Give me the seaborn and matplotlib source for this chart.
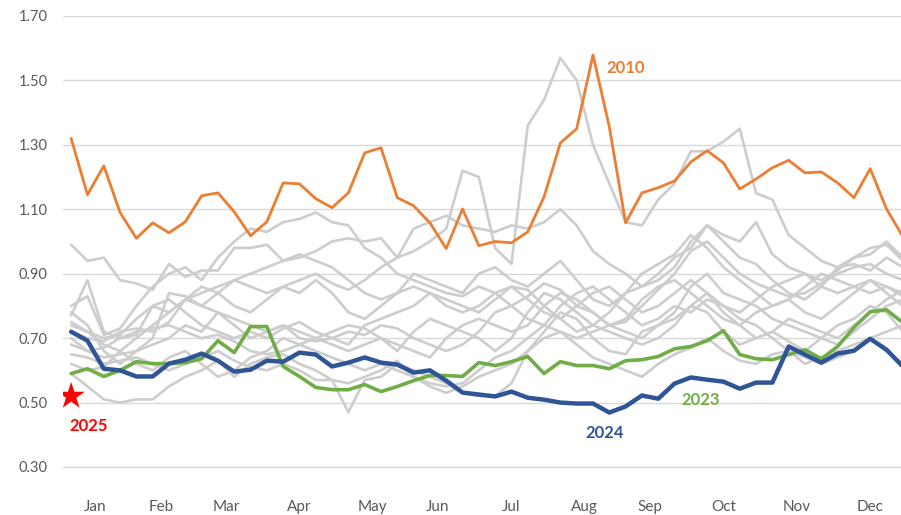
import numpy as np
import pandas as pd
import matplotlib
matplotlib.use("Agg")
import matplotlib.pyplot as plt
import seaborn as sns

# weekly values, 52 weeks
weeks = list(range(52))
months = ["Jan", "Feb", "Mar", "Apr", "May", "Jun", "Jul", "Aug", "Sep", "Oct", "Nov", "Dec"]
weeks_per_month = [4, 4, 4, 5, 4, 4, 5, 4, 4, 5, 4, 5]

y2010 = [1.32, 1.145, 1.235, 1.09, 1.01, 1.058, 1.027, 1.061, 1.142, 1.151, 1.092, 1.018,
         1.061, 1.182, 1.179, 1.133, 1.105, 1.151, 1.275, 1.291, 1.136, 1.111, 1.058, 0.978,
         1.101, 0.987, 1.00, 0.996, 1.03, 1.139, 1.306, 1.35, 1.579, 1.356, 1.058, 1.151,
         1.167, 1.188, 1.247, 1.282, 1.244, 1.163, 1.194, 1.229, 1.252, 1.213, 1.216, 1.182,
         1.136, 1.226, 1.101, 1.015]

y2023 = [0.59, 0.605, 0.581, 0.60, 0.627, 0.621, 0.621, 0.624, 0.636, 0.692, 0.655, 0.736,
         0.736, 0.612, 0.581, 0.547, 0.54, 0.54, 0.556, 0.534, 0.55, 0.568, 0.584, 0.584,
         0.581, 0.624, 0.615, 0.627, 0.643, 0.59, 0.627, 0.615, 0.615, 0.605, 0.63, 0.633,
         0.643, 0.667, 0.674, 0.692, 0.723, 0.649, 0.636, 0.633, 0.649, 0.664, 0.636, 0.674,
         0.733, 0.782, 0.788, 0.748]

y2024 = [0.72, 0.692, 0.605, 0.60, 0.581, 0.581, 0.621, 0.633, 0.652, 0.63, 0.596, 0.602,
         0.63, 0.627, 0.655, 0.649, 0.612, 0.624, 0.64, 0.624, 0.618, 0.593, 0.60, 0.568,
         0.531, 0.525, 0.519, 0.534, 0.515, 0.509, 0.50, 0.497, 0.497, 0.469, 0.488, 0.522,
         0.512, 0.559, 0.578, 0.571, 0.565, 0.543, 0.562, 0.562, 0.674, 0.649, 0.624, 0.652,
         0.661, 0.698, 0.664, 0.612]

y2025 = [0.52]

# other years (grey background lines)
grey_years = {
    "g01": [0.74, 0.72, 0.70, 0.71, 0.76, 0.80, 0.78, 0.82, 0.80, 0.84, 0.88, 0.86,
            0.84, 0.86, 0.88, 0.90, 0.87, 0.85, 0.88, 0.92, 0.95, 0.97, 1.00, 1.04,
            1.22, 1.20, 0.98, 0.93, 1.36, 1.44, 1.57, 1.50, 1.30, 1.18, 1.06, 1.05,
            1.13, 1.18, 1.28, 1.28, 1.31, 1.35, 1.15, 1.13, 1.02, 0.98, 0.94, 0.92,
            0.93, 0.91, 0.95, 0.92],
    "g02": [0.80, 0.83, 0.71, 0.73, 0.80, 0.86, 0.90, 0.92, 0.88, 0.95, 1.00, 1.04,
            1.03, 1.06, 1.07, 1.09, 1.06, 1.05, 0.98, 0.95, 0.90, 0.88, 0.86, 0.84,
            0.83, 0.86, 0.84, 0.80, 0.83, 0.87, 0.85, 0.80, 0.78, 0.74, 0.75, 0.80,
            0.85, 0.90, 0.97, 1.00, 0.95, 0.90, 0.87, 0.85, 0.83, 0.84, 0.87, 0.90,
            0.92, 0.93, 0.90, 0.88],
    "g03": [0.99, 0.94, 0.95, 0.88, 0.87, 0.85, 0.93, 0.89, 0.91, 0.91, 0.98, 0.98,
            0.99, 0.94, 0.95, 0.97, 1.00, 1.01, 1.00, 1.01, 0.95, 1.04, 1.06, 1.08,
            1.05, 1.04, 1.03, 1.05, 1.04, 1.06, 1.10, 1.05, 0.97, 0.93, 0.90, 0.86,
            0.88, 0.92, 1.00, 1.05, 1.02, 1.00, 1.06, 0.96, 0.92, 0.90, 0.88, 0.91,
            0.95, 0.98, 0.99, 0.94],
    "g04": [0.59, 0.55, 0.51, 0.50, 0.51, 0.51, 0.55, 0.58, 0.60, 0.63, 0.58, 0.62,
            0.64, 0.65, 0.62, 0.60, 0.57, 0.56, 0.58, 0.60, 0.63, 0.58, 0.55, 0.53,
            0.55, 0.58, 0.60, 0.62, 0.66, 0.70, 0.72, 0.68, 0.64, 0.62, 0.60, 0.58,
            0.62, 0.65, 0.67, 0.70, 0.66, 0.63, 0.62, 0.65, 0.66, 0.62, 0.64, 0.66,
            0.68, 0.70, 0.66, 0.62],
    "g05": [0.65, 0.64, 0.62, 0.63, 0.64, 0.62, 0.60, 0.62, 0.64, 0.66, 0.63, 0.61,
            0.60, 0.62, 0.60, 0.57, 0.57, 0.47, 0.57, 0.58, 0.62, 0.60, 0.58, 0.56,
            0.53, 0.52, 0.52, 0.56, 0.66, 0.72, 0.78, 0.76, 0.70, 0.66, 0.65, 0.72,
            0.74, 0.76, 0.80, 0.78, 0.72, 0.68, 0.70, 0.72, 0.69, 0.66, 0.70, 0.74,
            0.76, 0.80, 0.78, 0.72],
    "g06": [0.77, 0.88, 0.72, 0.70, 0.71, 0.80, 0.82, 0.78, 0.74, 0.72, 0.70, 0.72,
            0.70, 0.73, 0.75, 0.72, 0.70, 0.68, 0.74, 0.76, 0.78, 0.80, 0.84, 0.82,
            0.80, 0.78, 0.82, 0.86, 0.85, 0.80, 0.76, 0.72, 0.74, 0.78, 0.84, 0.86,
            0.90, 0.95, 0.98, 1.05, 1.00, 0.95, 0.93, 0.88, 0.84, 0.82, 0.86, 0.92,
            0.95, 0.96, 1.00, 0.95],
    "g07": [0.72, 0.70, 0.69, 0.72, 0.73, 0.72, 0.75, 0.82, 0.86, 0.84, 0.80, 0.78,
            0.82, 0.86, 0.84, 0.88, 0.84, 0.78, 0.76, 0.80, 0.84, 0.90, 0.88, 0.86,
            0.84, 0.90, 0.92, 0.88, 0.86, 0.90, 0.94, 0.88, 0.82, 0.80, 0.84, 0.90,
            0.93, 0.96, 1.02, 0.98, 0.92, 0.88, 0.84, 0.80, 0.82, 0.86, 0.90, 0.88,
            0.86, 0.84, 0.86, 0.83],
    "g08": [0.78, 0.74, 0.66, 0.62, 0.66, 0.70, 0.84, 0.83, 0.80, 0.78, 0.76, 0.74,
            0.72, 0.74, 0.70, 0.69, 0.70, 0.72, 0.71, 0.74, 0.73, 0.70, 0.68, 0.66,
            0.68, 0.72, 0.78, 0.80, 0.76, 0.74, 0.72, 0.70, 0.72, 0.74, 0.72, 0.70,
            0.74, 0.78, 0.86, 0.90, 0.84, 0.82, 0.80, 0.76, 0.74, 0.72, 0.70, 0.68,
            0.72, 0.76, 0.80, 0.82],
    "g09": [0.68, 0.66, 0.67, 0.70, 0.72, 0.73, 0.74, 0.72, 0.70, 0.71, 0.69, 0.66,
            0.65, 0.66, 0.68, 0.70, 0.72, 0.74, 0.73, 0.70, 0.68, 0.66, 0.64, 0.70,
            0.74, 0.76, 0.74, 0.72, 0.74, 0.80, 0.84, 0.82, 0.78, 0.74, 0.76, 0.82,
            0.86, 0.88, 0.84, 0.80, 0.76, 0.74, 0.78, 0.80, 0.82, 0.78, 0.76, 0.80,
            0.84, 0.88, 0.86, 0.84],
    "g10": [0.62, 0.60, 0.61, 0.66, 0.70, 0.74, 0.78, 0.82, 0.84, 0.86, 0.88, 0.90,
            0.92, 0.94, 0.96, 0.94, 0.92, 0.88, 0.84, 0.82, 0.84, 0.86, 0.84, 0.80,
            0.78, 0.80, 0.84, 0.86, 0.82, 0.78, 0.76, 0.80, 0.84, 0.86, 0.82, 0.78,
            0.80, 0.84, 0.88, 0.84, 0.80, 0.78, 0.82, 0.86, 0.88, 0.90, 0.86, 0.84,
            0.86, 0.88, 0.84, 0.80],
    "g11": [0.70, 0.66, 0.64, 0.65, 0.66, 0.68, 0.70, 0.74, 0.72, 0.78, 0.74, 0.70,
            0.72, 0.74, 0.72, 0.70, 0.68, 0.66, 0.68, 0.70, 0.66, 0.72, 0.76, 0.74,
            0.72, 0.70, 0.66, 0.70, 0.78, 0.84, 0.82, 0.78, 0.74, 0.72, 0.70, 0.68,
            0.70, 0.74, 0.80, 0.84, 0.78, 0.74, 0.70, 0.72, 0.76, 0.74, 0.72, 0.70,
            0.74, 0.78, 0.82, 0.85],
    "g12": [0.75, 0.72, 0.68, 0.66, 0.62, 0.60, 0.64, 0.66, 0.62, 0.58, 0.60, 0.64,
            0.66, 0.70, 0.68, 0.66, 0.64, 0.62, 0.60, 0.62, 0.60, 0.58, 0.56, 0.55,
            0.56, 0.60, 0.64, 0.66, 0.70, 0.74, 0.80, 0.84, 0.86, 0.82, 0.78, 0.74,
            0.76, 0.80, 0.78, 0.82, 0.80, 0.76, 0.74, 0.70, 0.66, 0.64, 0.62, 0.64,
            0.66, 0.70, 0.72, 0.74],
}

yticks = [0.30, 0.50, 0.70, 0.90, 1.10, 1.30, 1.50, 1.70]

# colours
c_grey = "#CDCDCD"
c_2010 = "#ED7D31"
c_2023 = "#70AD47"
c_2024 = "#2F5597"
c_2025 = "#FF0000"
c_text = "#595959"
c_grid = "#D9D9D9"

grey_df = pd.DataFrame(
    [(yr, w, v) for yr, vals in grey_years.items() for w, v in zip(weeks, vals)],
    columns=["year", "week", "value"],
)

sns.set_theme(style="white")
plt.rcParams["font.family"] = ["Lato", "DejaVu Sans"]

fig = plt.figure(figsize=(9.01, 5.15), dpi=100)
ax = fig.add_axes([63 / 901, 48 / 515, 848 / 901, 451 / 515])

sns.lineplot(data=grey_df, x="week", y="value", units="year", estimator=None,
             color=c_grey, linewidth=1.9, ax=ax, zorder=2)
sns.lineplot(x=weeks, y=y2010, color=c_2010, linewidth=2.0, ax=ax, zorder=3)
sns.lineplot(x=weeks, y=y2023, color=c_2023, linewidth=2.6, ax=ax, zorder=4)
sns.lineplot(x=weeks, y=y2024, color=c_2024, linewidth=3.2, ax=ax, zorder=5)
sns.scatterplot(x=weeks[:1], y=y2025, marker="*", s=420, color=c_2025,
                edgecolor="none", ax=ax, zorder=6)

# series labels
lab = dict(fontsize=12, fontweight="bold", ha="center", va="center")
ax.text(34.0, 1.539, "2010", color=c_2010, **lab)
ax.text(32.7, 0.404, "2024", color=c_2024, **lab)
ax.text(38.6, 0.509, "2023", color=c_2023, **lab)
ax.text(1.05, 0.427, "2025", color=c_2025, **lab)

ax.set_xlim(-0.5, 51.5)
ax.set_ylim(0.30, 1.70)
ax.set_yticks(yticks)
ax.set_yticklabels([f"{t:.2f}" for t in yticks])
ax.yaxis.grid(True, color=c_grid, linewidth=1)
ax.set_axisbelow(True)

# month boundaries as long minor ticks, month names centred between them
bounds = np.cumsum([0] + weeks_per_month) - 0.5
centers = (bounds[:-1] + bounds[1:]) / 2
ax.set_xticks(bounds, minor=True)
ax.set_xticks(centers)
ax.set_xticklabels(months)
ax.tick_params(axis="x", which="minor", length=35, width=1, color=c_grid, direction="out")
ax.tick_params(axis="x", which="major", length=0, pad=23.5, labelsize=11, labelcolor=c_text)
ax.tick_params(axis="y", length=0, pad=11, labelsize=10.5, labelcolor=c_text)
ax.set_xlabel("")
ax.set_ylabel("")

for s in ["top", "right", "left"]:
    ax.spines[s].set_visible(False)
ax.spines["bottom"].set_color(c_grid)
ax.spines["bottom"].set_linewidth(1)

fig.savefig("out.png", dpi=100)
